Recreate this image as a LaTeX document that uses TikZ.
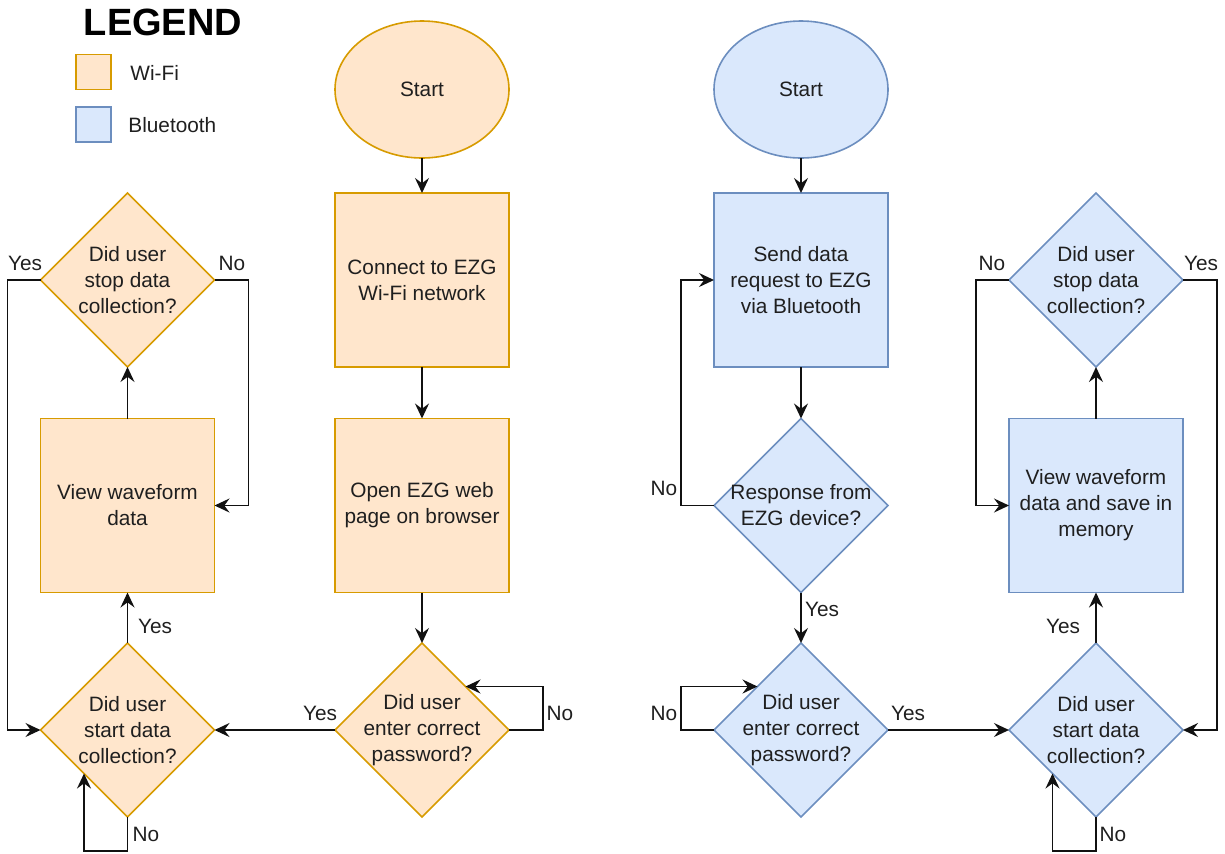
\documentclass[tikz,border=0pt]{standalone}
\usepackage{fontspec}
\setmainfont{Liberation Sans}
\usetikzlibrary{shapes.geometric,arrows.meta}
\definecolor{wfill}{HTML}{FFE6CC}
\definecolor{wline}{HTML}{D79B00}
\definecolor{bfill}{HTML}{DAE8FC}
\definecolor{bline}{HTML}{6C8EBF}
\definecolor{txtc}{HTML}{1F1F1F}
\definecolor{arrc}{HTML}{111111}
\tikzset{
  base/.style={line width=0.8pt, inner sep=0pt, outer sep=0pt},
  wifi/.style={base, draw=wline, fill=wfill},
  blue/.style={base, draw=bline, fill=bfill},
  boxsh/.style={rectangle, minimum width=87pt, minimum height=87pt},
  diash/.style={diamond, aspect=1, minimum width=87pt, minimum height=87pt},
  ellsh/.style={ellipse, minimum width=87pt, minimum height=68.5pt},
  txt/.style={align=center, text=txtc, font=\fontsize{10.4}{13}\selectfont, inner sep=0pt},
  lbl/.style={text=txtc, font=\fontsize{10.4}{13}\selectfont, inner sep=0pt},
  arr/.style={line width=0.8pt, draw=arrc, -{Stealth[length=7.5pt,width=7pt,inset=2.6pt]}},
}
\begin{document}
\begin{tikzpicture}[x=0.5pt,y=-0.5pt]
\useasboundingbox (0,0) rectangle (1225,853);

% Legend
\node[font=\bfseries\fontsize{19}{22}\selectfont, inner sep=0pt] (legend) at (163,22) {LEGEND};
\node[wifi, rectangle, minimum width=17.5pt, minimum height=17.5pt] (lw) at (93.5,72) {};
\node[blue, rectangle, minimum width=17.5pt, minimum height=17.5pt] (lb) at (93.5,124.5) {};
\node[lbl, anchor=west] (lwt) at (130,73) {Wi-Fi};
\node[lbl, anchor=west] (lbt) at (128,125) {Bluetooth};

% Wi-Fi column
\node[wifi, ellsh] (ws) at (422,89.5) {};
\node[txt] (wst) at (ws) {Start};
\node[wifi, boxsh] (wc) at (422,280) {};
\node[txt] (wct) at (wc) {Connect to EZG\\Wi-Fi network};
\node[wifi, boxsh] (wo) at (422,505.5) {};
\node[txt] (wot) at (wo) {Open EZG web\\page on browser};
\node[wifi, diash] (wp) at (422,730) {};
\node[txt] (wpt) at (wp) {Did user\\enter correct\\password?};
\node[wifi, diash] (wd) at (127.5,730) {};
\node[txt] (wdt) at (wd) {Did user\\start data\\collection?};
\node[wifi, boxsh] (wv) at (127.5,505.5) {};
\node[txt] (wvt) at (wv) {View waveform\\data};
\node[wifi, diash] (wx) at (127.5,280) {};
\node[txt] (wxt) at (wx) {Did user\\stop data\\collection?};

\draw[arr] (ws) -- (wc);
\draw[arr] (wc) -- (wo);
\draw[arr] (wo) -- (wp);
\draw[arr] (wp.west) -- (wd.east);
\draw[arr] (wp.east) -- ++(34,0) |- (wp.north east);
\draw[arr] (wd.north) -- (wv.south);
\draw[arr] (wd.south) -- ++(0,34) -| (wd.south west);
\draw[arr] (wv.north) -- (wx.south);
\draw[arr] (wx.west) -- ++(-33,0) |- (wd.west);
\draw[arr] (wx.east) -- ++(34,0) |- (wv.east);

\node[lbl] (l1) at (25,263) {Yes};
\node[lbl] (l2) at (232,263) {No};
\node[lbl] (l3) at (155,626) {Yes};
\node[lbl] (l4) at (146,834) {No};
\node[lbl] (l5) at (320,713) {Yes};
\node[lbl] (l6) at (560,713) {No};

% Bluetooth column
\node[blue, ellsh] (bs) at (801,89.5) {};
\node[txt] (bst) at (bs) {Start};
\node[blue, boxsh] (bq) at (801,280) {};
\node[txt] (bqt) at (bq) {Send data\\request to EZG\\via Bluetooth};
\node[blue, diash] (br) at (801,505.5) {};
\node[txt] (brt) at (br) {Response from\\EZG device?};
\node[blue, diash] (bp) at (801,730) {};
\node[txt] (bpt) at (bp) {Did user\\enter correct\\password?};
\node[blue, diash] (bd) at (1096,730) {};
\node[txt] (bdt) at (bd) {Did user\\start data\\collection?};
\node[blue, boxsh] (bv) at (1096,505.5) {};
\node[txt] (bvt) at (bv) {View waveform\\data and save in\\memory};
\node[blue, diash] (bx) at (1096,280) {};
\node[txt] (bxt) at (bx) {Did user\\stop data\\collection?};

\draw[arr] (bs) -- (bq);
\draw[arr] (bq) -- (br);
\draw[arr] (br.west) -- ++(-33,0) |- (bq.west);
\draw[arr] (br.south) -- (bp.north);
\draw[arr] (bp.west) -- ++(-33,0) |- (bp.north west);
\draw[arr] (bp.east) -- (bd.west);
\draw[arr] (bd.north) -- (bv.south);
\draw[arr] (bd.south) -- ++(0,34) -| (bd.south west);
\draw[arr] (bv.north) -- (bx.south);
\draw[arr] (bx.west) -- ++(-33,0) |- (bv.west);
\draw[arr] (bx.east) -- ++(34,0) |- (bd.east);

\node[lbl] (m1) at (664,488) {No};
\node[lbl] (m2) at (822,609) {Yes};
\node[lbl] (m3) at (664,713) {No};
\node[lbl] (m4) at (908,713) {Yes};
\node[lbl] (m5) at (1063,626) {Yes};
\node[lbl] (m6) at (1113,834) {No};
\node[lbl] (m7) at (992,263) {No};
\node[lbl] (m8) at (1201,263) {Yes};
\end{tikzpicture}
\end{document}
